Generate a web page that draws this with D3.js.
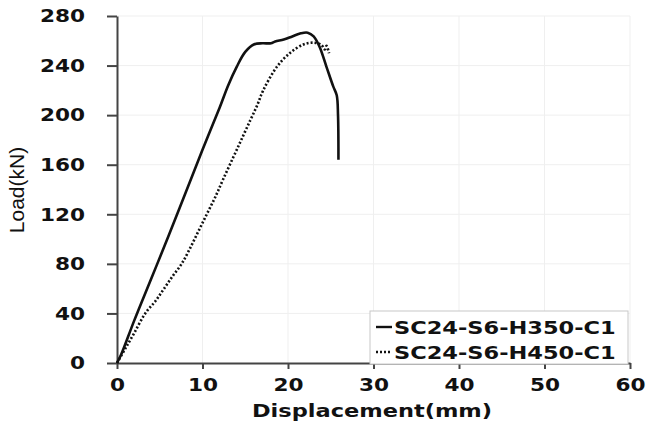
<!DOCTYPE html>
<html>
<head>
<meta charset="utf-8">
<script src="https://cdn.jsdelivr.net/npm/d3@7"></script>
<style>
  body { margin: 0; background: #fff; }
  svg text { font-family: "DejaVu Sans", sans-serif; font-weight: bold; fill: #111; }
</style>
</head>
<body>
<svg id="chart" width="648" height="425"></svg>
<script>
// series: SC24-S6-H350-C1 (solid)
const h350Disp = [0, 0.5, 2, 4, 6, 8, 10, 12, 13, 14, 15, 16, 17, 18, 18.5, 19.5, 20.5, 21.5, 22.3, 23, 23.7, 24.5, 25.3, 25.7, 25.85, 25.9];
const h350Load = [0, 7, 34, 68, 102, 137, 172, 206, 224, 239, 251, 257, 258, 258, 259.5, 261, 263.5, 266, 266.5, 263.5, 255, 239, 223, 216, 200, 164];
// series: SC24-S6-H450-C1 (dotted)
const h450Disp = [0, 1, 2, 3.3, 4.5, 5.5, 6.5, 7.56, 8.5, 9.5, 10.5, 11.5, 12.4, 13.6, 14.6, 15.6, 16.4, 17.1, 18.7, 20.2, 21.8, 23, 23.9, 24.3, 24.5, 24.8];
const h450Load = [0, 12, 24, 40, 50, 60, 70, 80, 92, 106, 120, 134, 148, 166, 181, 196, 208, 220, 239, 250, 257, 258.5, 256.6, 253, 256, 250];

const seriesNames = ["SC24-S6-H350-C1", "SC24-S6-H450-C1"];
const xTicks = [0, 10, 20, 30, 40, 50, 60];
const yTicks = [0, 40, 80, 120, 160, 200, 240, 280];
const xTitle = "Displacement(mm)";
const yTitle = "Load(kN)";

const margin = { left: 117, top: 16 };
const plotW = 513, plotH = 347;
const stretch = 1.2;   // the original text is drawn wide

const svg = d3.select("#chart");
const g = svg.append("g").attr("transform", "translate(" + margin.left + "," + margin.top + ")");

const x = d3.scaleLinear().domain([0, 60]).range([0, plotW]);
const y = d3.scaleLinear().domain([0, 280]).range([plotH, 0]);

// faint grid
g.append("g").selectAll("line.vg").data(xTicks.slice(1)).enter().append("line")
  .attr("x1", d => x(d)).attr("x2", d => x(d)).attr("y1", 0).attr("y2", plotH)
  .attr("stroke", "#efefef").attr("stroke-width", 1);
g.append("g").selectAll("line.hg").data(yTicks.slice(1)).enter().append("line")
  .attr("x1", 0).attr("x2", plotW).attr("y1", d => y(d)).attr("y2", d => y(d))
  .attr("stroke", "#efefef").attr("stroke-width", 1);

// axes
const xAxis = g.append("g").attr("transform", "translate(0," + plotH + ")")
  .call(d3.axisBottom(x).tickValues(xTicks).tickSize(6).tickPadding(9).tickSizeOuter(0));
const yAxis = g.append("g")
  .call(d3.axisLeft(y).tickValues(yTicks).tickSize(10).tickPadding(22).tickSizeOuter(0));

[xAxis, yAxis].forEach(a => {
  a.select(".domain").attr("stroke", "#444").attr("stroke-width", 2);
  a.selectAll(".tick line").attr("stroke", "#444").attr("stroke-width", 2);
  a.selectAll(".tick text").attr("font-size", 18).attr("fill", "#111")
    .style("font-family", "DejaVu Sans").style("font-weight", "bold");
});
xAxis.selectAll(".tick text").attr("transform", "scale(" + stretch + ",1)");
yAxis.selectAll(".tick text").each(function () {
  const t = d3.select(this);
  const x0 = +t.attr("x");
  t.attr("x", x0 / stretch).attr("transform", "scale(" + stretch + ",1)");
});

// lines
const line = d3.line().x(d => x(d[0])).y(d => y(d[1])).curve(d3.curveCatmullRom.alpha(0.5));
const h350 = h350Disp.map((d, i) => [d, h350Load[i]]);
const h450 = h450Disp.map((d, i) => [d, h450Load[i]]);

g.append("path").datum(h450).attr("d", line)
  .attr("fill", "none").attr("stroke", "#111").attr("stroke-width", 2.6)
  .attr("stroke-dasharray", "2,2");
g.append("path").datum(h350).attr("d", line)
  .attr("fill", "none").attr("stroke", "#111").attr("stroke-width", 2.6);

// axis titles
svg.append("text")
  .attr("transform", "translate(372,417) scale(" + (stretch + 0.05) + ",1)")
  .attr("text-anchor", "middle").attr("font-size", 18)
  .text(xTitle);
svg.append("text")
  .attr("transform", "translate(24,190) rotate(-90)")
  .attr("text-anchor", "middle")
  .style("font-family", "'Liberation Sans Narrow', 'Liberation Sans', sans-serif")
  .style("font-weight", "normal")
  .attr("font-size", 21).attr("fill", "#222")
  .text(yTitle);

// legend
const lg = svg.append("g").attr("transform", "translate(370,311)");
lg.append("rect").attr("width", 258).attr("height", 53)
  .attr("fill", "#fff").attr("stroke", "#c8c8c8").attr("stroke-width", 1);
const styles = [null, "2,2"];
seriesNames.forEach((name, i) => {
  const yy = 16 + i * 25;
  lg.append("line").attr("x1", 6).attr("x2", 22).attr("y1", yy).attr("y2", yy)
    .attr("stroke", "#111").attr("stroke-width", 2.4)
    .attr("stroke-dasharray", styles[i]);
  lg.append("text")
    .attr("transform", "translate(24," + (yy + 7) + ") scale(1.25,1)")
    .attr("font-size", 18).text(name);
});
</script>
</body>
</html>
